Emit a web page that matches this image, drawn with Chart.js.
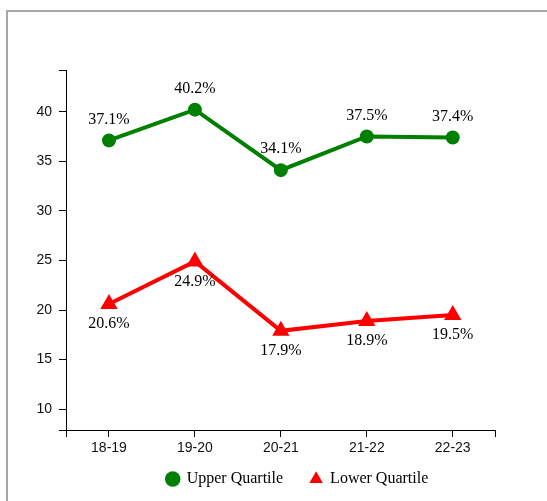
<!DOCTYPE html>
<html>
<head>
<meta charset="utf-8">
<script src="https://cdn.jsdelivr.net/npm/chart.js@4/dist/chart.umd.min.js"></script>
<style>
  html, body { margin: 0; padding: 0; background: #fff; }
  #wrap { position: relative; width: 547px; height: 501px; overflow: hidden; }
  #frame { position: absolute; left: 6px; top: 10px; width: 700px; height: 700px;
           border-top: 2px solid #a6a6a6; border-left: 2px solid #a6a6a6; box-sizing: border-box; }
  canvas { position: absolute; left: 0; top: 0; }
</style>
</head>
<body>
<div id="wrap">
  <div id="frame"></div>
  <canvas id="c" width="547" height="501"></canvas>
</div>
<script>
// ---- data ----
const categories = ['18-19', '19-20', '20-21', '21-22', '22-23'];
const upperQuartile = [37.1, 40.2, 34.1, 37.5, 37.4];
const lowerQuartile = [20.6, 24.9, 17.9, 18.9, 19.5];
const yTickValues = [10, 15, 20, 25, 30, 35, 40];
const yMin = 7.9, yMax = 44.2;

const sansFont = '"Liberation Sans", Arial, sans-serif';
const serifFont = '"Liberation Serif", "Times New Roman", serif';

const toPoints = arr => arr.map((v, i) => ({ x: i, y: v }));

const valueLabels = {
  id: 'valueLabels',
  afterDatasetsDraw(chart) {
    const ctx = chart.ctx;
    ctx.save();
    ctx.font = '16px ' + serifFont;
    ctx.fillStyle = '#000';
    ctx.textAlign = 'center';
    ctx.textBaseline = 'middle';
    chart.data.datasets.forEach((ds, di) => {
      const meta = chart.getDatasetMeta(di);
      const off = ds.labelOffset;
      meta.data.forEach((pt, i) => {
        ctx.fillText(ds.values[i].toFixed(1) + '%', pt.x, pt.y + off);
      });
    });
    ctx.restore();
  }
};

// nudges the legend box (layout offset only)
const legendOffset = {
  id: 'legendOffset',
  afterLayout(chart, args, opts) {
    const lg = chart.legend;
    if (!lg) return;
    lg.left += opts.dx; lg.right += opts.dx;
    lg.top += opts.dy; lg.bottom += opts.dy;
  }
};

new Chart(document.getElementById('c'), {
  type: 'line',
  data: {
    datasets: [
      {
        label: 'Upper Quartile',
        values: upperQuartile,
        data: toPoints(upperQuartile),
        borderColor: '#008000',
        backgroundColor: '#008000',
        borderWidth: 4,
        pointStyle: 'circle',
        pointRadius: 7,
        pointBorderWidth: 0,
        tension: 0,
        labelOffset: -21
      },
      {
        label: 'Lower Quartile',
        values: lowerQuartile,
        data: toPoints(lowerQuartile),
        borderColor: '#ff0000',
        backgroundColor: '#ff0000',
        borderWidth: 4,
        pointStyle: 'triangle',
        pointRadius: 10,
        pointBorderWidth: 0,
        tension: 0,
        labelOffset: 20
      }
    ]
  },
  options: {
    responsive: false,
    animation: false,
    events: [],
    layout: { padding: { top: 70, left: 0, right: 51.3, bottom: -9 } },
    scales: {
      x: {
        type: 'linear',
        position: 'bottom',
        min: -0.5,
        max: categories.length - 0.5,
        afterBuildTicks: s => { s.ticks = [-0.5, ...categories.map((c, i) => i), categories.length - 0.5].map(v => ({ value: v })); },
        afterFit: s => { s.height = 27; },
        grid: { display: true, drawOnChartArea: false, drawTicks: true, tickLength: 7, color: '#000', lineWidth: 1 },
        border: { display: true, color: '#000', width: 1 },
        ticks: {
          autoSkip: false, maxRotation: 0, minRotation: 0, padding: 3,
          color: '#111', font: { family: sansFont, size: 14 },
          callback: v => Number.isInteger(v) ? categories[v] : ''
        }
      },
      y: {
        type: 'linear',
        position: 'left',
        min: yMin,
        max: yMax,
        afterBuildTicks: s => { s.ticks = [yMin, ...yTickValues, yMax].map(v => ({ value: v })); },
        afterFit: s => { s.width = 66; },
        grid: { display: true, drawOnChartArea: false, drawTicks: true, tickLength: 7, color: '#000', lineWidth: 1 },
        border: { display: true, color: '#000', width: 1 },
        ticks: {
          autoSkip: false, padding: 7,
          color: '#111', font: { family: sansFont, size: 14 },
          callback: v => yTickValues.includes(v) ? String(v) : ''
        }
      }
    },
    plugins: {
      title: { display: false },
      tooltip: { enabled: false },
      legendOffset: { dx: 49.65, dy: -13 },
      legend: {
        display: true,
        position: 'bottom',
        align: 'center',
        labels: {
          usePointStyle: true,
          boxWidth: 12,
          boxHeight: 11,
          padding: 27,
          color: '#000',
          font: { family: serifFont, size: 16 },
          generateLabels: chart => Chart.defaults.plugins.legend.labels.generateLabels(chart)
            .map(l => ({ ...l, lineWidth: 0 }))
        }
      }
    }
  },
  plugins: [valueLabels, legendOffset]
});
</script>
</body>
</html>
